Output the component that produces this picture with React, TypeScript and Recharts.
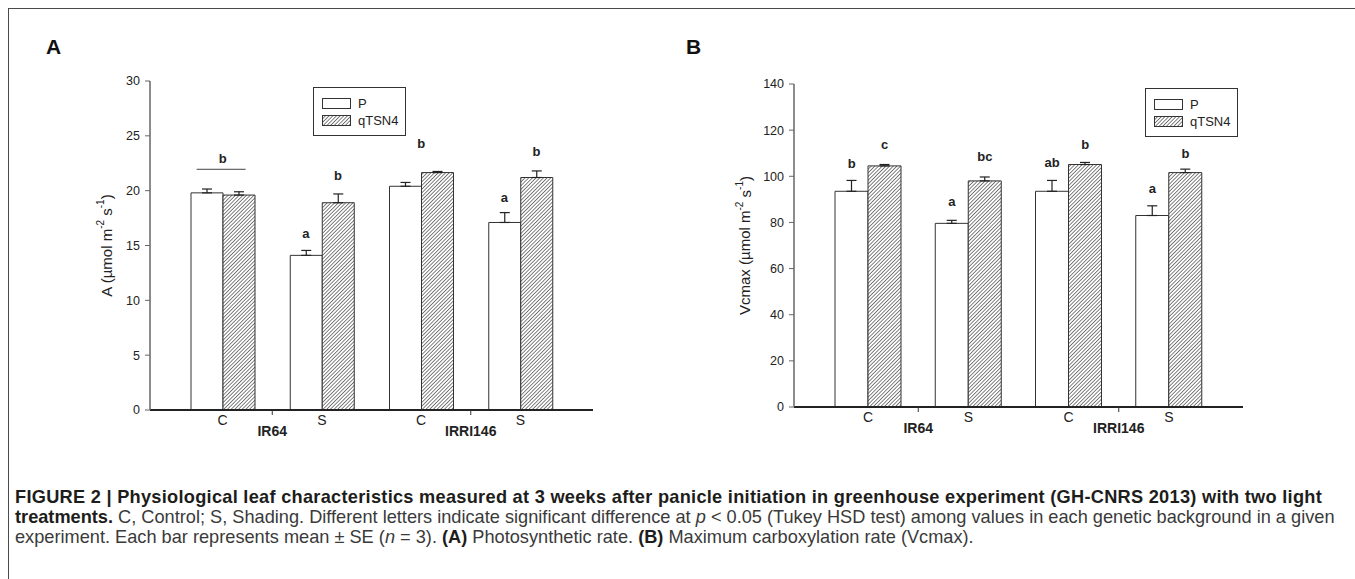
import React from 'react';
import { Bar, BarChart, ErrorBar, ReferenceDot, XAxis, YAxis } from 'recharts';

// groups on the x axis
const categories = ['IR64-C', 'IR64-S', 'IRRI146-C', 'IRRI146-S'];
const treatments = ['C', 'S', 'C', 'S'];
const backgrounds = ['IR64', 'IR64', 'IRRI146', 'IRRI146'];

// (A) photosynthetic rate, mean and SE
const photoP = [19.8, 14.1, 20.4, 17.1];
const photoPErr = [0.35, 0.45, 0.35, 0.9];
const photoQ = [19.6, 18.9, 21.65, 21.2];
const photoQErr = [0.3, 0.8, 0.1, 0.6];
const photoTicks = [0, 5, 10, 15, 20, 25, 30];

// (B) Vcmax, mean and SE
const vcmaxP = [93.5, 79.6, 93.5, 83.0];
const vcmaxPErr = [4.7, 1.3, 4.7, 4.2];
const vcmaxQ = [104.5, 98.0, 105.1, 101.6];
const vcmaxQErr = [0.6, 1.7, 0.9, 1.5];
const vcmaxTicks = [0, 20, 40, 60, 80, 100, 120, 140];

type Letter = { cat: string; bar: 'P' | 'Q' | 'both'; y: number; text: string };

const photoLetters: Letter[] = [
  { cat: 'IR64-C', bar: 'both', y: 22.95, text: 'b' },
  { cat: 'IR64-S', bar: 'P', y: 16.05, text: 'a' },
  { cat: 'IR64-S', bar: 'Q', y: 21.4, text: 'b' },
  { cat: 'IRRI146-C', bar: 'both', y: 24.3, text: 'b' },
  { cat: 'IRRI146-S', bar: 'P', y: 19.4, text: 'a' },
  { cat: 'IRRI146-S', bar: 'Q', y: 23.55, text: 'b' },
];
const photoLines = [{ cat: 'IR64-C', y: 21.95 }];

const vcmaxLetters: Letter[] = [
  { cat: 'IR64-C', bar: 'P', y: 105.7, text: 'b' },
  { cat: 'IR64-C', bar: 'Q', y: 113.8, text: 'c' },
  { cat: 'IR64-S', bar: 'P', y: 89.0, text: 'a' },
  { cat: 'IR64-S', bar: 'Q', y: 108.6, text: 'bc' },
  { cat: 'IRRI146-C', bar: 'P', y: 106.1, text: 'ab' },
  { cat: 'IRRI146-C', bar: 'Q', y: 113.9, text: 'b' },
  { cat: 'IRRI146-S', bar: 'P', y: 94.7, text: 'a' },
  { cat: 'IRRI146-S', bar: 'Q', y: 110.0, text: 'b' },
];

const buildRows = (p: number[], pe: number[], q: number[], qe: number[]) =>
  categories.map((key, i) => ({
    key,
    p: p[i],
    pErr: [0, pe[i]],
    q: q[i],
    qErr: [0, qe[i]],
  }));

const photoData = buildRows(photoP, photoPErr, photoQ, photoQErr);
const vcmaxData = buildRows(vcmaxP, vcmaxPErr, vcmaxQ, vcmaxQErr);

const FONT = '"Liberation Sans", Arial, Helvetica, sans-serif';
const INK = '#222';

const CategoryTick = (props: any) => {
  const { x, y, payload } = props;
  const i = payload.index ?? props.index;
  const half = payload.offset ?? 0;
  return (
    <g>
      <text x={x} y={y + 15} textAnchor="middle" fontSize={14} fill={INK}>
        {treatments[i]}
      </text>
      {treatments[i] === 'C' && (
        <g>
          <line x1={x + half} x2={x + half} y1={y} y2={y + 5} stroke="#333" strokeWidth={1} />
          <text x={x + half} y={y + 25.5} textAnchor="middle" fontSize={14} fontWeight="bold" fill={INK}>
            {backgrounds[i]}
          </text>
        </g>
      )}
    </g>
  );
};

const unitLabel = (name: string, labelX: number) => (props: any) => {
  const vb = props.viewBox || {};
  const cy = vb.y + vb.height / 2;
  return (
    <text
      x={labelX}
      y={cy}
      transform={`rotate(-90 ${labelX} ${cy})`}
      textAnchor="middle"
      dominantBaseline="central"
      fontSize={15}
      fill={INK}
    >
      {name} (µmol m
      <tspan dy={-6} fontSize={10}>-2</tspan>
      <tspan dy={6}> s</tspan>
      <tspan dy={-6} fontSize={10}>-1</tspan>
      <tspan dy={6}>)</tspan>
    </text>
  );
};

interface PanelProps {
  data: any[];
  ticks: number[];
  letters: Letter[];
  lines?: { cat: string; y: number }[];
  width: number;
  height: number;
  margin: { top: number; right: number; bottom: number; left: number };
  pad: number;
  barSize: number;
  patternId: string;
  yName: string;
  labelX: number;
}

const Hatch = ({ id }: { id: string }) => (
  <pattern id={id} patternUnits="userSpaceOnUse" width={2.6} height={2.6} patternTransform="rotate(45)">
    <rect width={2.6} height={2.6} fill="#fff" />
    <line x1={0} y1={0} x2={0} y2={2.6} stroke="#1a1a1a" strokeWidth={1.1} />
  </pattern>
);

const Panel = ({ data, ticks, letters, lines = [], width, height, margin, pad, barSize, patternId, yName, labelX }: PanelProps) => {
  const top = ticks[ticks.length - 1];
  const half = barSize / 2;
  return (
    <BarChart width={width} height={height} data={data} margin={margin} barGap={0}>
      <defs>
        <Hatch id={patternId} />
      </defs>
      <XAxis
        dataKey="key"
        padding={{ left: pad, right: pad }}
        height={40}
        axisLine={{ stroke: INK, strokeWidth: 2 }}
        tickLine={false}
        tickSize={0}
        tickMargin={0}
        interval={0}
        tick={<CategoryTick />}
      />
      <XAxis xAxisId="frame" dataKey="key" orientation="top" height={0} tick={false} tickLine={false} axisLine={{ stroke: '#777', strokeWidth: 1 }} />
      <YAxis
        domain={[0, top]}
        ticks={ticks}
        width={50}
        allowDataOverflow
        axisLine={{ stroke: '#666', strokeWidth: 1.5 }}
        tickLine={{ stroke: '#666' }}
        tickSize={5}
        tickMargin={5}
        tick={{ fontSize: 12.5, fill: INK }}
        label={{ content: unitLabel(yName, labelX) }}
      />
      <YAxis yAxisId="frame" orientation="right" width={0} domain={[0, top]} tick={false} tickLine={false} axisLine={{ stroke: '#777', strokeWidth: 1 }} />
      <Bar dataKey="p" name="P" fill="#fff" stroke="#333" strokeWidth={1} barSize={barSize} isAnimationActive={false}>
        <ErrorBar dataKey="pErr" width={5} stroke="#222" strokeWidth={1.2} direction="y" isAnimationActive={false} />
      </Bar>
      <Bar dataKey="q" name="qTSN4" fill={`url(#${patternId})`} stroke="#333" strokeWidth={1} barSize={barSize} isAnimationActive={false}>
        <ErrorBar dataKey="qErr" width={5} stroke="#222" strokeWidth={1.2} direction="y" isAnimationActive={false} />
      </Bar>
      {lines.map((l, i) => (
        <ReferenceDot
          key={`line-${i}`}
          x={l.cat}
          y={l.y}
          r={0}
          ifOverflow="visible"
          shape={(p: any) => <line x1={p.cx - 26} x2={p.cx + 23} y1={p.cy} y2={p.cy} stroke="#444" strokeWidth={1} />}
        />
      ))}
      {letters.map((l, i) => (
        <ReferenceDot
          key={`letter-${i}`}
          x={l.cat}
          y={l.y}
          r={0}
          ifOverflow="visible"
          shape={(p: any) => (
            <text
              x={p.cx + (l.bar === 'P' ? -half : l.bar === 'Q' ? half : 0)}
              y={p.cy}
              textAnchor="middle"
              dominantBaseline="central"
              fontSize={13}
              fontWeight="bold"
              fill={INK}
            >
              {l.text}
            </text>
          )}
        />
      ))}
    </BarChart>
  );
};

const Swatch = ({ hatch, id }: { hatch: boolean; id: string }) => (
  <svg width={29} height={11} style={{ display: 'block' }}>
    <defs>
      <Hatch id={id} />
    </defs>
    <rect x={0.5} y={0.5} width={28} height={10} fill={hatch ? `url(#${id})` : '#fff'} stroke="#333" strokeWidth={1} />
  </svg>
);

const SeriesLegend = ({ left, top, id }: { left: number; top: number; id: string }) => (
  <div
    style={{
      position: 'absolute',
      left,
      top,
      width: 93,
      height: 49,
      boxSizing: 'border-box',
      border: '1.5px solid #333',
      background: '#fff',
      fontSize: 13,
      color: INK,
    }}
  >
    {[
      { name: 'P', hatch: false, y: 10 },
      { name: 'qTSN4', hatch: true, y: 26.5 },
    ].map((s) => (
      <div key={s.name} style={{ position: 'absolute', left: 8, top: s.y, display: 'flex', alignItems: 'center', height: 11 }}>
        <Swatch hatch={s.hatch} id={`${id}-${s.name}`} />
        <span style={{ marginLeft: 7, lineHeight: '11px' }}>{s.name}</span>
      </div>
    ))}
  </div>
);

export default function App() {
  const plain = { color: '#3a3a3a', fontWeight: 'normal' as const };
  const bold = { color: '#1d1d1b', fontWeight: 'bold' as const };
  const line: React.CSSProperties = { whiteSpace: 'nowrap', height: 20, lineHeight: '20px' };
  return (
    <div
      style={{
        position: 'fixed',
        left: 0,
        top: 0,
        width: 1355,
        height: 579,
        overflow: 'hidden',
        background: '#fff',
        fontFamily: FONT,
      }}
    >
      <div
        style={{
          position: 'absolute',
          left: 8,
          top: 8,
          width: 1400,
          height: 620,
          borderTop: '1.5px solid #4a4a4a',
          borderLeft: '1.5px solid #4a4a4a',
        }}
      />
      <svg width={1355} height={80} style={{ position: 'absolute', left: 0, top: 0 }}>
        <text x={46} y={54} fontSize={21} fontWeight="bold" fill="#111" fontFamily={FONT}>A</text>
        <text x={686} y={54} fontSize={21} fontWeight="bold" fill="#111" fontFamily={FONT}>B</text>
      </svg>
      <div style={{ position: 'absolute', left: 0, top: 0 }}>
        <Panel
          data={photoData}
          ticks={photoTicks}
          letters={photoLetters}
          lines={photoLines}
          width={620}
          height={460}
          margin={{ top: 81, right: 27, bottom: 10, left: 100 }}
          pad={23}
          barSize={32}
          patternId="hatchA"
          yName="A"
          labelX={106}
        />
      </div>
      <div style={{ position: 'absolute', left: 680, top: 0 }}>
        <Panel
          data={vcmaxData}
          ticks={vcmaxTicks}
          letters={vcmaxLetters}
          width={600}
          height={460}
          margin={{ top: 84, right: 37, bottom: 13, left: 64 }}
          pad={24}
          barSize={33}
          patternId="hatchB"
          yName="Vcmax"
          labelX={64.6}
        />
      </div>
      <SeriesLegend left={313} top={87} id="legA" />
      <SeriesLegend left={1145} top={88} id="legB" />
      <div style={{ position: 'absolute', left: 15, top: 487, fontSize: 18.2 }}>
        <div style={{ ...line, ...bold, letterSpacing: 0.28 }}>
          FIGURE 2 | Physiological leaf characteristics measured at 3 weeks after panicle initiation in greenhouse experiment (GH-CNRS 2013) with two light
        </div>
        <div style={{ ...line, ...plain }}>
          <span style={bold}>treatments.</span> C, Control; S, Shading. Different letters indicate significant difference at <i>p</i> &lt; 0.05 (Tukey HSD test) among values in each genetic background in a given
        </div>
        <div style={{ ...line, ...plain }}>
          experiment. Each bar represents mean ± SE (<i>n</i> = 3). <span style={bold}>(A)</span> Photosynthetic rate. <span style={bold}>(B)</span> Maximum carboxylation rate (Vcmax).
        </div>
      </div>
    </div>
  );
}
